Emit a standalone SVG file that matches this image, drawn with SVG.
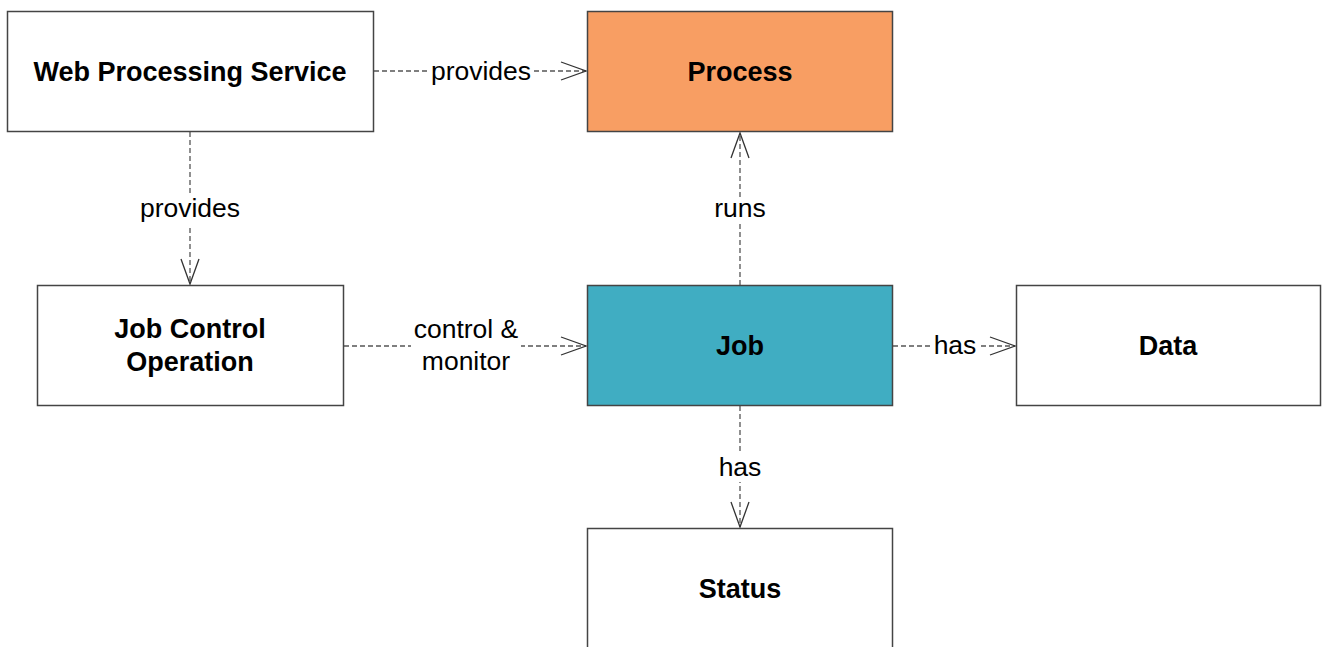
<svg xmlns="http://www.w3.org/2000/svg" width="1322" height="647" viewBox="0 0 1322 647">
<style>
.box{stroke:#444;stroke-width:1.5}
.t{font-family:"Liberation Sans",Arial,sans-serif;font-weight:bold;font-size:27px;fill:#000;text-anchor:middle}
.l{font-family:"Liberation Sans",Arial,sans-serif;font-size:26.5px;fill:#000;text-anchor:middle}
.c{stroke:#555;stroke-width:1.3;stroke-dasharray:5,3;fill:none}
.a{stroke:#333;stroke-width:1.3;fill:none}
.bg{fill:#fff}
</style>
<rect width="1322" height="647" fill="#fff"/>
<g id="connectors">
<line class="c" x1="374" y1="71" x2="586" y2="71"/>
<polyline class="a" points="561,62 586,71 561,80"/>
<line class="c" x1="190" y1="132" x2="190" y2="284"/>
<polyline class="a" points="181,259 190,284 199,259"/>
<line class="c" x1="344" y1="346" x2="586" y2="346"/>
<polyline class="a" points="561,337 586,346 561,355"/>
<line class="c" x1="740" y1="285" x2="740" y2="133"/>
<polyline class="a" points="731,158 740,133 749,158"/>
<line class="c" x1="893" y1="346" x2="1015" y2="346"/>
<polyline class="a" points="990,337 1015,346 990,355"/>
<line class="c" x1="740" y1="406" x2="740" y2="527"/>
<polyline class="a" points="731,502 740,527 749,502"/>
<rect class="bg" x="429" y="58" width="104" height="30"/>
<text class="l" x="481" y="80">provides</text>
<rect class="bg" x="139" y="195" width="104" height="30"/>
<text class="l" x="190" y="217">provides</text>
<rect class="bg" x="411" y="312" width="110" height="66"/>
<text class="l" x="466" y="338">control &amp;</text>
<text class="l" x="466" y="370">monitor</text>
<rect class="bg" x="713" y="198" width="54" height="26"/>
<text class="l" x="740" y="217">runs</text>
<rect class="bg" x="932" y="333" width="46" height="26"/>
<text class="l" x="955" y="354">has</text>
<rect class="bg" x="717" y="454" width="46" height="28"/>
<text class="l" x="740" y="476">has</text>
</g>
<g id="wps"><rect class="box" x="7.5" y="11.5" width="366" height="120" fill="#fff"/><text class="t" x="190" y="81">Web Processing Service</text></g>
<g id="process"><rect class="box" x="587.5" y="11.5" width="305" height="120" fill="#F89E63"/><text class="t" x="740" y="81">Process</text></g>
<g id="jco"><rect class="box" x="37.5" y="285.5" width="306" height="120" fill="#fff"/><text class="t" x="190" y="338">Job Control</text><text class="t" x="190" y="371">Operation</text></g>
<g id="job"><rect class="box" x="587.5" y="285.5" width="305" height="120" fill="#40ADC2"/><text class="t" x="740" y="355">Job</text></g>
<g id="data"><rect class="box" x="1016.5" y="285.5" width="304" height="120" fill="#fff"/><text class="t" x="1168" y="355">Data</text></g>
<g id="status"><rect class="box" x="587.5" y="528.5" width="305" height="125" fill="#fff"/><text class="t" x="740" y="598">Status</text></g>
</svg>
